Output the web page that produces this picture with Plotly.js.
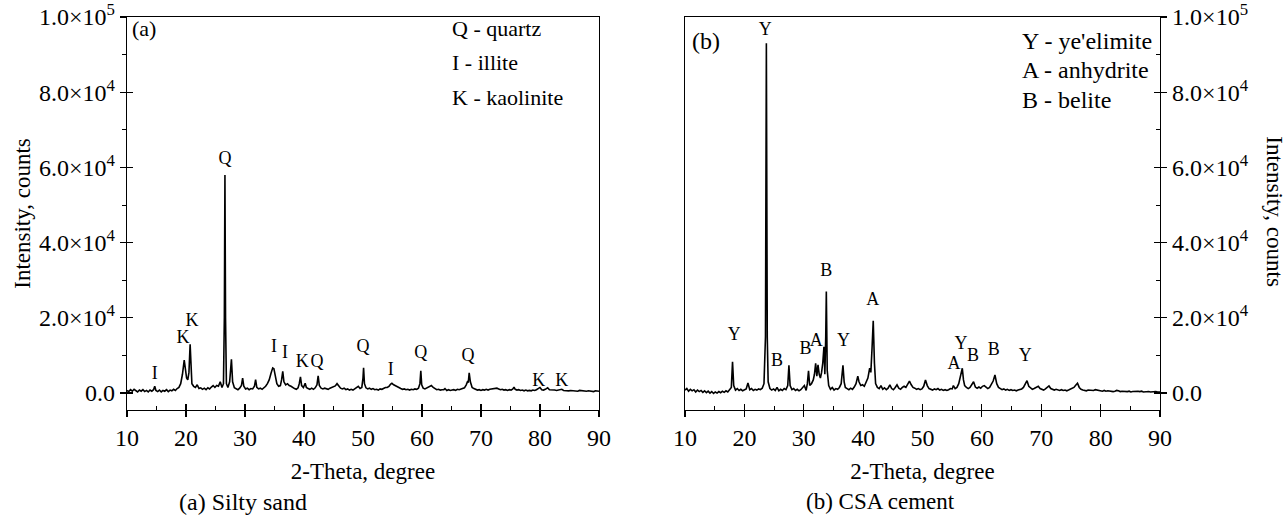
<!DOCTYPE html>
<html>
<head>
<meta charset="utf-8">
<script src="https://cdn.plot.ly/plotly-3.0.1.min.js"></script>
<style>html,body{margin:0;padding:0;background:#fff;}#chart{width:1288px;height:524px;}</style>
</head>
<body>
<div id="chart"></div>
<script>
// ---------- Data: (a) Silty sand ----------
const sandTheta = [10.0,10.3,10.6,10.9,11.2,11.5,11.8,12.1,12.4,12.7,13.0,13.3,13.6,13.9,14.2,14.5,14.7,14.9,15.2,15.5,15.8,16.1,16.4,16.7,17.0,17.3,17.6,17.9,18.2,18.5,18.8,19.1,19.4,19.7,19.9,20.1,20.3,20.5,20.7,20.85,21.0,21.3,21.6,21.9,22.2,22.5,22.8,23.1,23.4,23.7,24.0,24.3,24.6,24.9,25.2,25.5,25.8,26.1,26.35,26.5,26.6,26.7,26.85,27.1,27.4,27.7,27.9,28.2,28.5,28.8,29.1,29.4,29.6,29.8,30.1,30.4,30.7,31.0,31.3,31.6,31.8,32.0,32.3,32.6,32.9,33.2,33.5,33.8,34.1,34.4,34.7,34.9,35.1,35.4,35.7,36.0,36.2,36.4,36.6,36.9,37.2,37.5,37.8,38.1,38.4,38.7,39.0,39.2,39.4,39.6,39.9,40.2,40.4,40.7,41.0,41.3,41.6,41.9,42.2,42.4,42.6,42.9,43.2,43.5,43.8,44.1,44.4,44.7,45.0,45.3,45.6,45.9,46.2,46.5,46.8,47.1,47.4,47.7,48.0,48.3,48.6,48.9,49.2,49.5,49.8,50.0,50.1,50.25,50.5,50.8,51.1,51.4,51.7,52.0,52.3,52.6,52.9,53.2,53.5,53.8,54.1,54.4,54.7,54.9,55.2,55.5,55.8,56.1,56.4,56.7,57.0,57.3,57.6,57.9,58.2,58.5,58.8,59.1,59.4,59.65,59.8,59.95,60.2,60.5,60.8,61.1,61.4,61.6,61.9,62.2,62.5,62.8,63.1,63.4,63.7,63.9,64.2,64.5,64.8,65.1,65.4,65.7,66.0,66.3,66.6,66.9,67.2,67.5,67.7,67.85,68.0,68.2,68.5,68.8,69.1,69.4,69.7,70.0,70.3,70.6,70.9,71.2,71.5,71.8,72.1,72.4,72.7,73.0,73.3,73.6,73.9,74.2,74.5,74.8,75.1,75.4,75.6,75.8,76.1,76.4,76.7,77.0,77.3,77.6,77.9,78.2,78.5,78.8,79.1,79.4,79.7,80.0,80.3,80.6,80.9,81.3,81.6,81.9,82.2,82.5,82.8,83.1,83.4,83.7,84.0,84.3,84.6,84.9,85.2,85.5,85.8,86.1,86.4,86.7,87.0,87.3,87.6,87.9,88.2,88.5,88.8,89.1,89.4,89.7,90.0];
const sandCounts = [700,400,900,500,1000,600,300,800,500,900,400,700,300,800,500,900,1800,700,400,800,300,700,500,900,400,800,600,1000,700,1200,1500,2500,5000,8800,6500,4000,3500,5500,13000,5000,2500,1800,1500,2200,1200,1400,1000,1300,900,1400,1100,1600,2000,1500,2000,1800,3000,1500,2500,20000,58000,20000,2500,1500,3000,9000,3000,1400,1200,900,1300,2000,4000,1800,1100,1300,900,1200,1100,1800,3600,1500,1100,1300,1000,1400,1800,2500,3500,5200,6700,6500,4500,2500,1800,2000,3500,5800,3000,2200,2500,2000,1800,1400,1200,1000,1400,2500,4300,2000,1500,2600,1500,1200,1000,1300,1000,1400,2200,4600,2000,1300,1100,1300,1200,1000,1300,1500,1600,1900,2500,2000,1300,1100,1300,900,1100,800,1000,800,1100,1300,1800,1200,1500,4000,6700,2500,1400,1100,1300,1000,1200,900,1000,800,1100,1000,1300,1500,1500,1800,2400,2600,2200,1900,1600,1300,1200,1000,1100,900,1000,800,1000,900,1100,1000,1300,2500,5900,2200,1300,1100,1400,1600,2000,2000,1500,1100,900,1000,800,900,900,1200,700,900,700,800,900,700,1000,900,1100,1300,1400,2200,3000,2800,5400,3000,1500,1200,1000,800,900,700,900,800,1000,800,1000,1100,1100,1300,1300,1100,900,1000,800,900,700,900,800,1100,1600,1000,800,900,700,800,600,800,600,700,600,800,700,900,1100,1500,900,800,1000,1400,900,800,700,800,700,800,900,1000,700,600,700,600,700,600,700,600,500,700,600,500,600,500,600,500,600,400,600,500,500];

// ---------- Data: (b) CSA cement ----------
const csaTheta = [10.0,10.3,10.6,10.9,11.2,11.5,11.8,12.1,12.4,12.7,13.0,13.3,13.6,13.9,14.2,14.5,14.8,15.1,15.4,15.7,16.0,16.3,16.6,16.9,17.2,17.5,17.8,18.0,18.2,18.5,18.8,19.1,19.4,19.7,20.0,20.3,20.6,20.9,21.2,21.5,21.8,22.1,22.4,22.7,23.0,23.3,23.55,23.7,23.85,24.0,24.3,24.6,24.9,25.2,25.5,25.8,26.1,26.4,26.7,27.0,27.3,27.5,27.7,28.0,28.3,28.6,28.9,29.2,29.5,29.8,30.1,30.4,30.6,30.8,31.0,31.3,31.6,31.8,32.0,32.2,32.4,32.6,32.8,33.0,33.2,33.4,33.55,33.7,33.8,33.95,34.2,34.5,34.8,35.1,35.4,35.7,36.0,36.3,36.6,36.8,37.0,37.3,37.6,37.9,38.2,38.5,38.8,39.1,39.3,39.6,39.9,40.2,40.5,40.8,41.1,41.3,41.5,41.7,41.9,42.1,42.4,42.7,43.0,43.3,43.6,43.9,44.2,44.5,44.8,45.1,45.4,45.7,46.0,46.3,46.6,46.9,47.2,47.5,47.8,48.1,48.4,48.7,49.0,49.3,49.6,49.9,50.2,50.5,50.8,51.1,51.4,51.7,52.0,52.3,52.6,52.9,53.2,53.5,53.8,54.1,54.4,54.7,55.0,55.2,55.5,55.8,56.1,56.4,56.7,56.9,57.1,57.4,57.7,58.0,58.3,58.6,58.9,59.2,59.5,59.8,60.1,60.4,60.7,61.0,61.3,61.6,61.9,62.2,62.5,62.8,63.1,63.4,63.7,64.0,64.3,64.6,64.9,65.2,65.5,65.8,66.1,66.4,66.7,67.0,67.3,67.6,67.9,68.2,68.5,68.8,69.1,69.5,69.8,70.1,70.4,70.7,71.0,71.3,71.6,71.9,72.2,72.5,72.8,73.1,73.4,73.7,74.0,74.3,74.6,74.9,75.2,75.5,75.8,76.1,76.4,76.7,77.0,77.3,77.6,77.9,78.2,78.5,78.8,79.1,79.4,79.7,80.0,80.3,80.6,80.9,81.2,81.5,81.8,82.1,82.4,82.7,83.0,83.3,83.6,83.9,84.2,84.5,84.8,85.1,85.4,85.7,86.0,86.3,86.6,86.9,87.2,87.5,87.8,88.1,88.4,88.7,89.0,89.3,89.6,90.0];
const csaCounts = [800,1200,500,1000,600,900,300,800,400,700,200,600,100,500,0,400,-100,300,0,400,100,500,200,600,300,800,1500,8300,2000,800,1200,700,1000,600,900,1100,2700,900,1200,700,1000,800,1100,900,1300,2500,15000,93000,15000,3000,1200,800,1100,700,1500,600,1000,700,1200,900,2000,7400,2000,900,1200,700,1000,600,900,1500,2000,700,2500,5900,2000,2500,3500,5000,7900,4500,7500,5000,4000,5500,8000,12300,5000,15000,27000,6000,2000,1000,1500,800,1200,1000,1500,2500,7400,3000,1500,1200,900,1300,1000,1600,2500,4500,3000,2000,2200,1800,2800,4000,6600,5500,12000,19200,8000,2500,1500,1200,2000,1000,1400,900,1300,2200,1200,900,1500,2200,1300,1000,1500,1800,1500,2200,3200,2200,1500,1300,1000,1200,900,1100,1800,3500,2000,1200,1000,800,1100,900,1200,800,1000,700,900,700,900,1200,1100,2000,1200,1500,2500,4500,6600,3500,2000,1500,1200,1500,2200,3000,1600,1300,1600,1300,1800,2000,1600,1200,1500,2200,3200,4800,2500,1500,1100,900,1100,800,1000,700,900,700,800,600,800,900,1100,1500,2500,3300,1800,1300,1000,1200,1400,1800,1200,1000,800,1100,1400,1900,1200,900,800,1000,800,700,900,700,800,600,800,1000,1200,1500,2100,2600,1500,1000,800,700,600,800,700,600,700,900,800,700,600,500,700,500,600,500,600,400,500,700,600,400,500,400,500,400,500,300,400,500,600,500,400,500,300,400,300,400,300,400,300,400,300,300];

// ---------- Phase labels ----------
const sandLabels = ['I','K','K','Q','I','I','K','Q','Q','I','Q','Q','K','K'];
const sandLabelTheta = [14.7,19.5,21.0,26.6,34.9,36.8,39.7,42.2,50.0,54.7,59.8,67.8,79.8,83.7];
const sandLabelY = [5000,14400,19100,62000,12000,10400,8000,8000,12000,5900,10400,9600,3200,3200];

const csaLabels = ['Y','Y','B','B','A','B','Y','A','A','Y','B','B','Y'];
const csaLabelTheta = [18.3,23.5,25.5,30.3,32.1,33.8,36.7,41.6,55.3,56.5,58.5,62.0,67.3];
const csaLabelY = [15200,96500,8500,11700,13600,32400,13600,24700,7700,13000,9800,11200,9800];

const sandLegend = ['Q - quartz','I - illite','K - kaolinite'];
const csaLegend = ["Y - ye'elimite",'A - anhydrite','B - belite'];

const yTickVals = [0,20000,40000,60000,80000,100000];
const yTickText = ['0.0','2.0×10<sup>4</sup>','4.0×10<sup>4</sup>','6.0×10<sup>4</sup>','8.0×10<sup>4</sup>','1.0×10<sup>5</sup>'];

// ---------- Styling ----------
const FF = 'Liberation Serif, Times New Roman, serif';
const tickFont = {family: FF, size: 24, color: '#000'};
const labelFont = {family: FF, size: 18, color: '#000'};
const titleFont = {family: FF, size: 23, color: '#000'};
const xRange = [10, 90];
const yRange = [-4500, 100000];

const traces = [
  {x: sandTheta, y: sandCounts, xaxis: 'x', yaxis: 'y', mode: 'lines',
   line: {color: '#000', width: 1.6}, hoverinfo: 'skip', showlegend: false},
  {x: csaTheta, y: csaCounts, xaxis: 'x2', yaxis: 'y2', mode: 'lines',
   line: {color: '#000', width: 1.6}, hoverinfo: 'skip', showlegend: false},
  {x: sandLabelTheta, y: sandLabelY, text: sandLabels, xaxis: 'x', yaxis: 'y', mode: 'text',
   textfont: labelFont, textposition: 'middle center', hoverinfo: 'skip', showlegend: false},
  {x: csaLabelTheta, y: csaLabelY, text: csaLabels, xaxis: 'x2', yaxis: 'y2', mode: 'text',
   textfont: labelFont, textposition: 'middle center', hoverinfo: 'skip', showlegend: false},
  // empty traces so that the overlay (inner tick) axes are drawn
  {x: [], y: [], xaxis: 'x3', yaxis: 'y3', mode: 'lines', hoverinfo: 'skip', showlegend: false},
  {x: [], y: [], xaxis: 'x4', yaxis: 'y4', mode: 'lines', hoverinfo: 'skip', showlegend: false}
];

const baseX = {
  range: xRange, dtick: 10, tick0: 10, ticks: 'outside', ticklen: 6, tickwidth: 1.2, tickcolor: '#000',
  showline: true, mirror: true, linecolor: '#000', linewidth: 1.3, showgrid: false, zeroline: false,
  tickfont: tickFont, fixedrange: true
};
const baseY = {
  range: yRange, tickmode: 'array', tickvals: yTickVals, ticktext: yTickText,
  ticks: 'outside', ticklen: 6, tickwidth: 1.2, tickcolor: '#000',
  showline: true, mirror: true, linecolor: '#000', linewidth: 1.3, showgrid: false, zeroline: false,
  tickfont: tickFont, fixedrange: true
};
const innerX = {
  range: xRange, dtick: 10, tick0: 10, ticks: 'inside', ticklen: 6, tickwidth: 1.2, tickcolor: '#000',
  showticklabels: false, showline: false, showgrid: false, zeroline: false, fixedrange: true,
  minor: {ticks: 'inside', ticklen: 4, dtick: 5, tick0: 10, tickcolor: '#000', tickwidth: 1}
};
const innerY = {
  range: yRange, tickmode: 'linear', tick0: 0, dtick: 20000, ticks: 'inside', ticklen: 6, tickwidth: 1.2,
  tickcolor: '#000', showticklabels: false, showline: false, showgrid: false, zeroline: false, fixedrange: true
};

const dA = [0, 0.4569];
const dB = [0.5402, 1];

const layout = {
  width: 1288, height: 524,
  margin: {l: 127, r: 128, t: 17, b: 114},
  paper_bgcolor: '#fff', plot_bgcolor: '#fff',
  font: {family: FF, color: '#000'},
  showlegend: false,
  xaxis: Object.assign({}, baseX, {domain: dA, anchor: 'y',
    title: {text: '2-Theta, degree', font: titleFont, standoff: 12}}),
  yaxis: Object.assign({}, baseY, {domain: [0, 1], anchor: 'x', side: 'left',
    minor: {ticks: 'outside', ticklen: 4, tickvals: [10000,30000,50000,70000,90000], tickcolor: '#000', tickwidth: 1},
    title: {text: 'Intensity, counts', font: titleFont, standoff: 2}}),
  xaxis2: Object.assign({}, baseX, {domain: dB, anchor: 'y2',
    title: {text: '2-Theta, degree', font: titleFont, standoff: 12}}),
  yaxis2: Object.assign({}, baseY, {domain: [0, 1], anchor: 'x2', side: 'right'}),
  xaxis3: Object.assign({}, innerX, {overlaying: 'x', anchor: 'y3'}),
  yaxis3: Object.assign({}, innerY, {overlaying: 'y', anchor: 'x3', side: 'left'}),
  xaxis4: Object.assign({}, innerX, {overlaying: 'x2', anchor: 'y4'}),
  yaxis4: Object.assign({}, innerY, {overlaying: 'y2', anchor: 'x4', side: 'right',
    minor: {ticks: 'inside', ticklen: 4, tickvals: [10000,30000,50000,70000,90000], tickcolor: '#000', tickwidth: 1}}),
  annotations: [
    {text: '(a)', xref: 'x domain', yref: 'y domain', x: 0.006, y: 0.972, xanchor: 'left', yanchor: 'middle',
     showarrow: false, font: {family: FF, size: 22, color: '#000'}},
    {text: '(b)', xref: 'x2 domain', yref: 'y2 domain', x: 0.01, y: 0.94, xanchor: 'left', yanchor: 'middle',
     showarrow: false, font: {family: FF, size: 24, color: '#000'}},
    {text: sandLegend[0], xref: 'x domain', yref: 'y domain', x: 0.684, y: 0.972, xanchor: 'left', yanchor: 'middle', showarrow: false, font: {family: FF, size: 22, color: '#000'}},
    {text: sandLegend[1], xref: 'x domain', yref: 'y domain', x: 0.684, y: 0.885, xanchor: 'left', yanchor: 'middle', showarrow: false, font: {family: FF, size: 22, color: '#000'}},
    {text: sandLegend[2], xref: 'x domain', yref: 'y domain', x: 0.684, y: 0.796, xanchor: 'left', yanchor: 'middle', showarrow: false, font: {family: FF, size: 22, color: '#000'}},
    {text: csaLegend[0], xref: 'x2 domain', yref: 'y2 domain', x: 0.705, y: 0.94, xanchor: 'left', yanchor: 'middle', showarrow: false, font: {family: FF, size: 24, color: '#000'}},
    {text: csaLegend[1], xref: 'x2 domain', yref: 'y2 domain', x: 0.705, y: 0.865, xanchor: 'left', yanchor: 'middle', showarrow: false, font: {family: FF, size: 24, color: '#000'}},
    {text: csaLegend[2], xref: 'x2 domain', yref: 'y2 domain', x: 0.705, y: 0.79, xanchor: 'left', yanchor: 'middle', showarrow: false, font: {family: FF, size: 24, color: '#000'}},
    {text: 'Intensity, counts', xref: 'paper', yref: 'paper', x: 1.11, y: 0.504, textangle: 90,
     xanchor: 'center', yanchor: 'middle', showarrow: false, font: titleFont},
    {text: '(a) Silty sand', xref: 'paper', yref: 'paper', x: 0.1123, y: -0.234, xanchor: 'center', yanchor: 'middle',
     showarrow: false, font: {family: FF, size: 24, color: '#000'}},
    {text: '(b) CSA cement', xref: 'paper', yref: 'paper', x: 0.7299, y: -0.234, xanchor: 'center', yanchor: 'middle',
     showarrow: false, font: {family: FF, size: 23, color: '#000'}}
  ]
};

Plotly.newPlot('chart', traces, layout, {displayModeBar: false, staticPlot: true});
</script>
</body>
</html>
